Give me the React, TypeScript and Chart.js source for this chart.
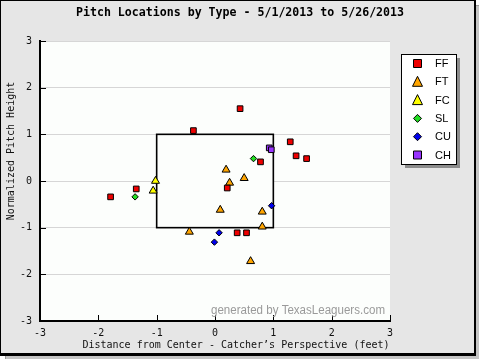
import React, { useEffect, useRef } from "react";
import { Chart, registerables } from "chart.js";

Chart.register(...registerables);

const TITLE = "Pitch Locations by Type - 5/1/2013 to 5/26/2013";
const X_TITLE = "Distance from Center - Catcher\u2019s Perspective (feet)";
const Y_TITLE = "Normalized Pitch Height";
const WATERMARK = "generated by TexasLeaguers.com";

const TICKS = [-3, -2, -1, 0, 1, 2, 3];

const FF = [
  { x: -1.79, y: -0.34 }, { x: -1.35, y: -0.17 }, { x: 0.43, y: 1.55 },
  { x: -0.37, y: 1.08 }, { x: 1.29, y: 0.84 }, { x: 1.39, y: 0.54 },
  { x: 1.57, y: 0.48 }, { x: 0.78, y: 0.41 }, { x: 0.21, y: -0.15 },
  { x: 0.38, y: -1.11 }, { x: 0.54, y: -1.11 },
];
const FT = [
  { x: 0.19, y: 0.24 }, { x: 0.5, y: 0.06 }, { x: 0.25, y: -0.04 },
  { x: 0.09, y: -0.62 }, { x: 0.81, y: -0.66 }, { x: 0.81, y: -0.98 },
  { x: -0.44, y: -1.09 }, { x: 0.61, y: -1.72 },
];
const FC = [{ x: -1.02, y: 0.0 }, { x: -1.06, y: -0.21 }];
const SL = [{ x: -1.37, y: -0.34 }, { x: 0.66, y: 0.48 }];
const CU = [{ x: 0.97, y: -0.53 }, { x: 0.07, y: -1.11 }, { x: -0.01, y: -1.31 }];
const CH = [{ x: 0.93, y: 0.71 }, { x: 0.965, y: 0.67 }];

const SERIES = [
  { label: "FF", data: FF, color: "#ee0000", style: "rect", r: 4 },
  { label: "FT", data: FT, color: "#ffa500", style: "triangle", r: 4.6 },
  { label: "FC", data: FC, color: "#ffff00", style: "triangle", r: 4.6 },
  { label: "SL", data: SL, color: "#22dd22", style: "rectRot", r: 3.2 },
  { label: "CU", data: CU, color: "#0000ee", style: "rectRot", r: 3.2 },
  { label: "CH", data: CH, color: "#9933ff", style: "rect", r: 4 },
];

const ZONE = { x1: -1, x2: 1, y1: -1, y2: 1 };

const MONO = '"DejaVu Sans Mono", "Liberation Mono", monospace';
const SANS = '"Liberation Sans", Arial, sans-serif';

function drawMarker(ctx: CanvasRenderingContext2D, style: string, x: number, y: number, s: number, color: string) {
  ctx.save();
  ctx.fillStyle = color;
  ctx.strokeStyle = "#000";
  ctx.lineWidth = 1;
  ctx.beginPath();
  if (style === "rect") {
    ctx.rect(x - s / 2, y - s / 2, s, s);
  } else if (style === "triangle") {
    ctx.moveTo(x, y - s * 0.55);
    ctx.lineTo(x + s / 2, y + s * 0.45);
    ctx.lineTo(x - s / 2, y + s * 0.45);
    ctx.closePath();
  } else {
    ctx.moveTo(x, y - s / 2);
    ctx.lineTo(x + s / 2, y);
    ctx.lineTo(x, y + s / 2);
    ctx.lineTo(x - s / 2, y);
    ctx.closePath();
  }
  ctx.fill();
  ctx.stroke();
  ctx.restore();
}

const decor = {
  id: "decor",
  beforeDraw(chart: any) {
    const { ctx, chartArea: a } = chart;
    ctx.save();
    ctx.fillStyle = "#ffffff";
    ctx.fillRect(0, 0, 480, 360);
    // shadow
    ctx.fillStyle = "#9a9a9a";
    ctx.fillRect(5, 5, 474, 354);
    ctx.fillStyle = "#c4c4c4";
    ctx.fillRect(476, 6, 3, 353);
    ctx.fillRect(6, 356, 473, 3);
    // frame
    ctx.fillStyle = "#e6e6e6";
    ctx.fillRect(0, 0, 475, 354);
    ctx.strokeStyle = "#000";
    ctx.lineWidth = 1;
    ctx.strokeRect(0.5, 0.5, 474, 353);
    ctx.lineWidth = 2;
    ctx.beginPath();
    ctx.moveTo(475, 0);
    ctx.lineTo(475, 355);
    ctx.lineTo(0, 355);
    ctx.stroke();
    // plot bg
    ctx.fillStyle = "#fcfefc";
    ctx.fillRect(a.left, a.top, a.right - a.left, a.bottom - a.top);
    ctx.restore();
  },
  beforeDatasetsDraw(chart: any) {
    const { ctx, chartArea: a, scales } = chart;
    const xs = scales.x, ys = scales.y;
    ctx.save();
    const l = xs.getPixelForValue(ZONE.x1), r = xs.getPixelForValue(ZONE.x2);
    const t = ys.getPixelForValue(ZONE.y2), b = ys.getPixelForValue(ZONE.y1);
    ctx.fillStyle = "#fcfefc";
    ctx.fillRect(l, t, r - l, b - t);
    ctx.strokeStyle = "#000";
    ctx.lineWidth = 1.6;
    ctx.strokeRect(l, t, r - l, b - t);
    // inside tick marks
    ctx.lineWidth = 1;
    ctx.beginPath();
    TICKS.forEach((v) => {
      const py = Math.round(ys.getPixelForValue(v)) + 0.5;
      ctx.moveTo(a.left, py);
      ctx.lineTo(a.left + 6, py);
      const px = Math.round(xs.getPixelForValue(v)) + 0.5;
      ctx.moveTo(px, a.bottom);
      ctx.lineTo(px, a.bottom - 6);
    });
    ctx.stroke();
    ctx.restore();
  },
  afterDraw(chart: any) {
    const { ctx, chartArea: a } = chart;
    ctx.save();
    ctx.fillStyle = "#000";
    ctx.textAlign = "center";
    ctx.textBaseline = "middle";
    ctx.font = "bold 11.6px " + MONO;
    ctx.fillText(TITLE, 240, 13);
    ctx.font = "10px " + MONO;
    ctx.fillStyle = "#111";
    ctx.fillText(X_TITLE, 236, 345);
    ctx.save();
    ctx.translate(11, 151);
    ctx.rotate(-Math.PI / 2);
    ctx.fillText(Y_TITLE, 0, 0);
    ctx.restore();
    // watermark
    ctx.font = "12px " + SANS;
    ctx.fillStyle = "#9a9a9a";
    ctx.textAlign = "left";
    ctx.textBaseline = "alphabetic";
    ctx.fillText(WATERMARK, 211, 314, 174);
    // legend
    const lx = 401, ly = 54, lw = 55, lh = 110;
    ctx.fillStyle = "#8c8c8c";
    ctx.fillRect(lx + 4, ly + 4, lw, lh);
    ctx.fillStyle = "#ffffff";
    ctx.fillRect(lx, ly, lw, lh);
    ctx.strokeStyle = "#000";
    ctx.lineWidth = 1;
    ctx.strokeRect(lx + 0.5, ly + 0.5, lw, lh);
    ctx.font = "11px " + SANS;
    ctx.textBaseline = "middle";
    chart.data.datasets.forEach((ds: any, i: number) => {
      const cy = 63.5 + i * 18.3;
      const s = ds.pointStyle === "rect" ? 8 : ds.pointStyle === "triangle" ? 10 : 8;
      drawMarker(ctx, ds.pointStyle, 417.5, cy, s, ds.backgroundColor);
      ctx.fillStyle = "#000";
      ctx.fillText(ds.label, 435, cy + 0.5);
    });
    ctx.restore();
  },
};

export default function App() {
  const ref = useRef<HTMLCanvasElement | null>(null);
  useEffect(() => {
    if (!ref.current) return;
    const chart = new Chart(ref.current, {
      type: "scatter",
      data: {
        datasets: SERIES.map((s) => ({
          label: s.label,
          data: s.data,
          backgroundColor: s.color,
          borderColor: "#000",
          borderWidth: 1,
          pointStyle: s.style as any,
          pointRadius: s.r,
          pointHoverRadius: s.r,
        })),
      },
      options: {
        animation: false,
        responsive: false,
        events: [],
        layout: { padding: { top: 41, right: 90, left: 0, bottom: 0 } },
        plugins: { legend: { display: false }, title: { display: false }, tooltip: { enabled: false } },
        scales: {
          x: {
            type: "linear",
            min: -3,
            max: 3,
            afterFit: (s: any) => { s.height = 39; },
            ticks: { stepSize: 1, padding: 6, color: "#111", font: { family: MONO, size: 10 }, callback: (v: any) => String(v) },
            grid: { display: true, drawOnChartArea: false, drawTicks: false },
            border: { display: true, color: "#000", width: 2 },
          },
          y: {
            type: "linear",
            min: -3,
            max: 3,
            afterFit: (s: any) => { s.width = 40; },
            ticks: { stepSize: 1, padding: 8, color: "#111", font: { family: MONO, size: 10 }, callback: (v: any) => String(v) },
            grid: { display: true, color: "#d6d6d6", lineWidth: 1, drawTicks: false },
            border: { display: true, color: "#000", width: 2 },
          },
        },
      },
      plugins: [decor],
    });
    return () => chart.destroy();
  }, []);
  return (
    <div style={{ position: "fixed", left: 0, top: 0, width: 480, height: 360 }}>
      <canvas ref={ref} width={480} height={360} style={{ width: 480, height: 360, display: "block" }} />
    </div>
  );
}
